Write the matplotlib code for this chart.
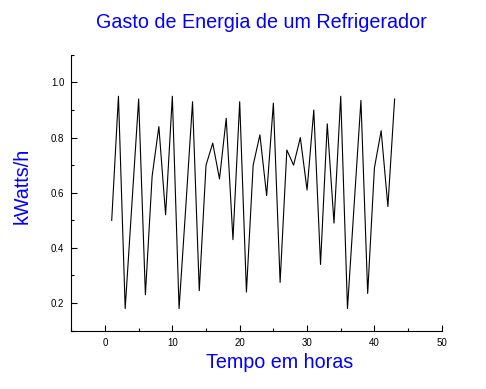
import matplotlib
matplotlib.use("Agg")
import matplotlib.pyplot as plt
from matplotlib.ticker import MultipleLocator

# hourly energy use
horas = list(range(1, 44))
kwatts = [0.50, 0.95, 0.18, 0.56, 0.94, 0.23, 0.66, 0.84, 0.52, 0.95,
          0.18, 0.55, 0.93, 0.245, 0.70, 0.78, 0.65, 0.87, 0.43, 0.93,
          0.24, 0.70, 0.81, 0.59, 0.925, 0.275, 0.755, 0.70, 0.80, 0.61,
          0.90, 0.34, 0.85, 0.49, 0.95, 0.18, 0.56, 0.935, 0.235, 0.69,
          0.825, 0.55, 0.94]

plt.rcParams['font.family'] = ['Liberation Sans', 'DejaVu Sans']

fig = plt.figure(figsize=(4.86, 3.89), dpi=100)
ax = fig.add_axes([0.1467, 0.150, 0.7623, 0.709])

ax.plot(horas, kwatts, color='black', linewidth=0.8)

ax.set_xlim(-5, 50)
ax.set_ylim(0.1, 1.1)
ax.xaxis.set_major_locator(MultipleLocator(10))
ax.xaxis.set_minor_locator(MultipleLocator(5))
ax.yaxis.set_major_locator(MultipleLocator(0.2))
ax.yaxis.set_minor_locator(MultipleLocator(0.1))
ax.tick_params(which='both', direction='in', labelsize=7, pad=5, width=0.8)
ax.tick_params(which='major', length=4)
ax.tick_params(which='minor', length=2.5)
ax.yaxis.set_major_formatter(matplotlib.ticker.FormatStrFormatter('%.1f'))

ax.spines['top'].set_visible(False)
ax.spines['right'].set_visible(False)
ax.spines['left'].set_linewidth(0.8)
ax.spines['bottom'].set_linewidth(0.8)

fig.text(261 / 486, 1 - 22 / 389, 'Gasto de Energia de um Refrigerador',
         color='blue', fontsize=14.2, ha='center', va='center')
fig.text(280 / 486, 1 - 362 / 389, 'Tempo em horas',
         color='blue', fontsize=14.2, ha='center', va='center')
fig.text(22 / 486, 1 - 186 / 389, 'kWatts/h',
         color='blue', fontsize=14.2, ha='center', va='center', rotation=90)

fig.savefig('out.png', dpi=100)
